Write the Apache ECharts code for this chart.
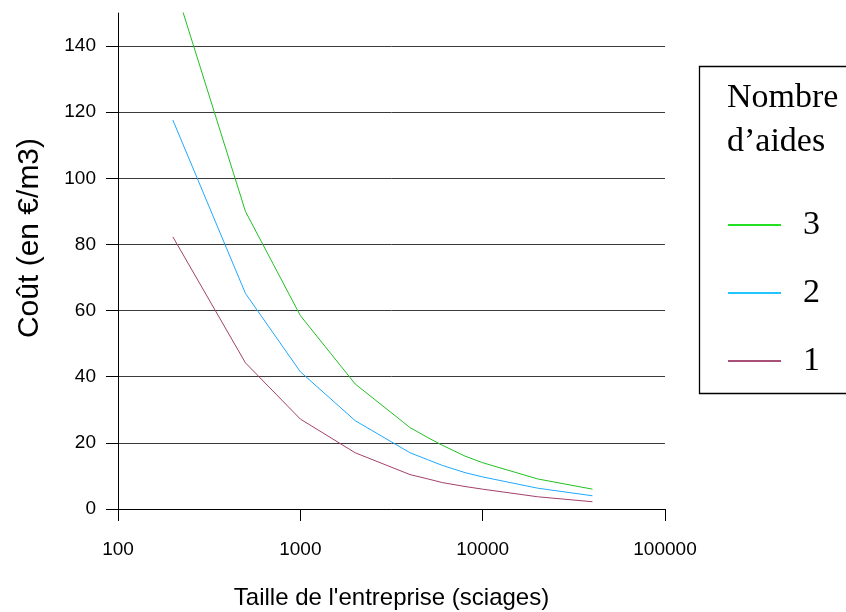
<!DOCTYPE html>
<html>
<head>
<meta charset="utf-8">
<script src="https://cdn.jsdelivr.net/npm/echarts@6/dist/echarts.min.js"></script>
<style>html,body{margin:0;padding:0;background:#fff}#c{width:846px;height:612px}</style>
</head>
<body>
<div id="c"></div>
<script>
const sizes = [200, 500, 1000, 2000, 4000, 5000, 6000, 8000, 10000, 20000, 40000];
const aides3 = [160, 90, 58.5, 37.8, 24.6, 21.6, 19.3, 16.0, 14.0, 9.1, 6.0];
const aides2 = [117.6, 65.2, 41.5, 26.7, 17.0, 14.9, 13.2, 11.0, 9.7, 6.3, 4.0];
const aides1 = [82.3, 44.2, 27.2, 17.0, 10.4, 9.1, 8.0, 6.8, 6.0, 3.7, 2.2];
const yTicks = [0, 20, 40, 60, 80, 100, 120, 140];
const seriesNames = ['3', '2', '1'];
const legendTitle = ['Nombre', 'd\u2019aides'];

const pair = (xs, ys) => xs.map((x, i) => [x, ys[i]]);
const chart = echarts.init(document.getElementById('c'));
const serif = '"Liberation Serif", "DejaVu Serif", serif';
const sans = '"Liberation Sans", Arial, sans-serif';
const colors = {'3': '#22c022', '2': '#1ea8ff', '1': '#a3406c'};
const legendColors = {'3': '#22e022', '2': '#22c4ff', '1': '#a85077'};

chart.setOption({
  animation: false,
  grid: {left: 118, right: 181, top: 13, bottom: 103, outerBoundsMode: 'none', containLabel: false},
  xAxis: {
    type: 'log', logBase: 10, min: 100, max: 100000,
    name: "Taille de l'entreprise (sciages)",
    nameLocation: 'middle', nameGap: 77,
    nameTextStyle: {fontFamily: sans, fontSize: 24, color: '#000'},
    axisLine: {lineStyle: {color: '#000', width: 1}},
    axisTick: {inside: false, length: 12, lineStyle: {color: '#000'}},
    axisLabel: {fontFamily: sans, fontSize: 19, color: '#000', margin: 31, formatter: v => String(Math.round(v))},
    splitLine: {show: false},
    minorTick: {show: false}
  },
  yAxis: {
    type: 'value', min: 0, max: 150, interval: 20,
    name: 'Co\u00fbt (en \u20ac/m3)',
    nameLocation: 'middle', nameGap: 73,
    nameTextStyle: {fontFamily: sans, fontSize: 30, color: '#000', padding: [0, 0, 0, 46]},
    axisLine: {show: true, lineStyle: {color: '#000', width: 1}},
    axisTick: {show: true, length: 12, lineStyle: {color: '#000'}, customValues: yTicks},
    axisLabel: {fontFamily: sans, fontSize: 19, color: '#000', margin: 22, customValues: yTicks},
    splitLine: {show: true, lineStyle: {color: '#3a3a3a', width: 1}}
  },
  legend: {
    orient: 'vertical',
    left: 723, top: 203,
    icon: 'rect',
    itemWidth: 53, itemHeight: 2, itemGap: 34,
    data: seriesNames.map(n => ({name: n, itemStyle: {color: legendColors[n]}})),
    textStyle: {fontFamily: serif, fontSize: 34, lineHeight: 34, color: '#000', padding: [0, 0, 0, 17]},
    selectedMode: false
  },
  graphic: [
    {type: 'rect', shape: {x: 699.5, y: 66.5, width: 170, height: 327}, style: {fill: 'none', stroke: '#000', lineWidth: 1.3}},
    {type: 'text', left: 727, top: 81, style: {text: legendTitle[0], font: '34px ' + serif, fill: '#000'}},
    {type: 'text', left: 727, top: 125, style: {text: legendTitle[1], font: '34px ' + serif, fill: '#000'}}
  ],
  series: [
    {name: '3', type: 'line', data: pair(sizes, aides3), symbol: 'none', lineStyle: {color: colors['3'], width: 1}, itemStyle: {color: colors['3']}, clip: true},
    {name: '2', type: 'line', data: pair(sizes, aides2), symbol: 'none', lineStyle: {color: colors['2'], width: 1}, itemStyle: {color: colors['2']}, clip: true},
    {name: '1', type: 'line', data: pair(sizes, aides1), symbol: 'none', lineStyle: {color: colors['1'], width: 1}, itemStyle: {color: colors['1']}, clip: true}
  ]
});
</script>
</body>
</html>
